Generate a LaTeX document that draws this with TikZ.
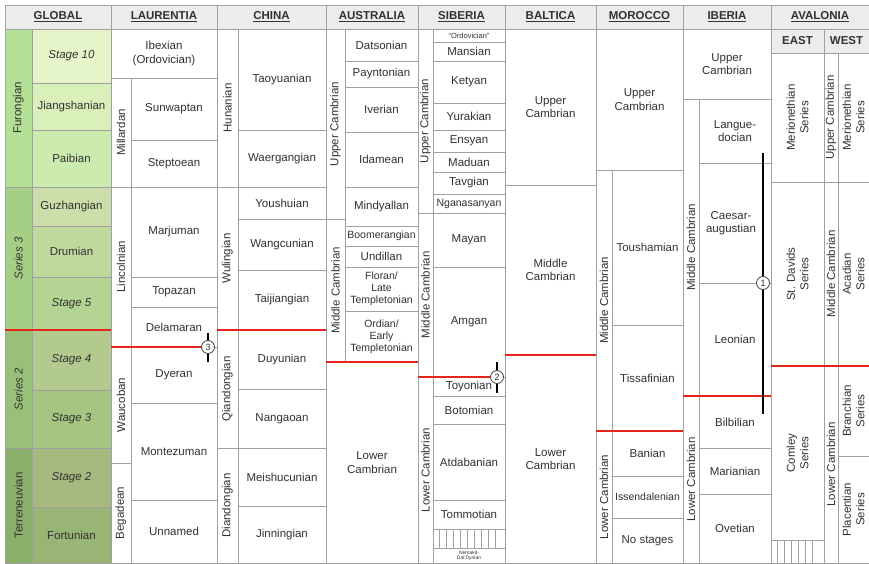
\documentclass[tikz,border=0pt]{standalone}
\usepackage{fontspec}
\setmainfont{Liberation Sans}

\definecolor{gridgray}{RGB}{160,160,160}
\definecolor{hdrgray}{RGB}{236,236,236}
\definecolor{textgray}{RGB}{50,50,50}
\definecolor{bndred}{RGB}{228,38,28}
\definecolor{colFur}{HTML}{B3E095}
\definecolor{colSt10}{HTML}{E6F5C9}
\definecolor{colJia}{HTML}{D9F0BB}
\definecolor{colPai}{HTML}{CCEBAE}
\definecolor{colSer3}{HTML}{A6CF86}
\definecolor{colGuz}{HTML}{CCDFAA}
\definecolor{colDru}{HTML}{BFD99D}
\definecolor{colSt5}{HTML}{B3D492}
\definecolor{colSer2}{HTML}{99C078}
\definecolor{colSt4}{HTML}{B3CA8E}
\definecolor{colSt3}{HTML}{A6C583}
\definecolor{colTer}{HTML}{8CB06C}
\definecolor{colSt2}{HTML}{A6BA80}
\definecolor{colFor}{HTML}{99B575}

\tikzset{
  cellbox/.style={draw=gridgray, line width=0.8pt, fill=white},
  celltext/.style={align=center, inner sep=0pt, text=textgray,
    font=\fontsize{11.5}{13.5}\selectfont},
  hdr/.style={fill=hdrgray, font=\fontsize{11.5}{13.5}\selectfont\bfseries},
  smallfont/.style={font=\fontsize{10.5}{12}\selectfont},
  tinyfont/.style={font=\fontsize{7.5}{8}\selectfont},
  minifont/.style={font=\fontsize{5}{5.5}\selectfont},
  boundary/.style={draw=bndred, line width=2.6pt},
  markerbar/.style={draw=black, line width=2.6pt},
  marker/.style={circle, draw=black!75, fill=white, line width=0.8pt,
    inner sep=0pt, minimum size=13pt, text=textgray,
    font=\fontsize{9}{9}\selectfont},
  hatchline/.style={draw=gridgray, line width=0.8pt}
}

% box from (x1,y1) to (x2,y2) with its label in the middle
\newcommand\Cell[7][]{%
  \draw[cellbox,#1] (#3,#4) rectangle (#5,#6);
  \node[celltext,#1] (#2) at ({(#3+#5)/2},{(#4+#6)/2}) {#7};}
\newcommand\VCell[7][]{%
  \draw[cellbox,#1] (#3,#4) rectangle (#5,#6);
  \node[celltext,#1,rotate=90] (#2) at ({(#3+#5)/2},{(#4+#6)/2}) {#7};}

\begin{document}
\begin{tikzpicture}[x=1pt,y=-1pt]
\useasboundingbox (0,0) rectangle (869,564);

% headers
\Cell[hdr]{hGlobal}{5}{5}{111}{29}{\underline{GLOBAL}}
\Cell[hdr]{hLaur}{111}{5}{217}{29}{\underline{LAURENTIA}}
\Cell[hdr]{hChina}{217}{5}{326}{29}{\underline{CHINA}}
\Cell[hdr]{hAustr}{326}{5}{418}{29}{\underline{AUSTRALIA}}
\Cell[hdr]{hSiber}{418}{5}{505}{29}{\underline{SIBERIA}}
\Cell[hdr]{hBalt}{505}{5}{596}{29}{\underline{BALTICA}}
\Cell[hdr]{hMoro}{596}{5}{683}{29}{\underline{MOROCCO}}
\Cell[hdr]{hIber}{683}{5}{771}{29}{\underline{IBERIA}}
\Cell[hdr]{hAval}{771}{5}{869}{29}{\underline{AVALONIA}}
\Cell[hdr]{hEast}{771}{29}{824}{53}{EAST}
\Cell[hdr]{hWest}{824}{29}{869}{53}{WEST}

% global
\VCell[fill=colFur]{gFur}{5}{29}{32}{187}{Furongian}
\VCell[fill=colSer3]{gSer3}{5}{187}{32}{330}{\itshape Series 3}
\VCell[fill=colSer2]{gSer2}{5}{330}{32}{448}{\itshape Series 2}
\VCell[fill=colTer]{gTer}{5}{448}{32}{563}{Terreneuvian}
\Cell[fill=colSt10]{gSt10}{32}{29}{111}{83}{\itshape Stage 10}
\Cell[fill=colJia]{gJia}{32}{83}{111}{130}{Jiangshanian}
\Cell[fill=colPai]{gPai}{32}{130}{111}{187}{Paibian}
\Cell[fill=colGuz]{gGuz}{32}{187}{111}{226}{Guzhangian}
\Cell[fill=colDru]{gDru}{32}{226}{111}{277}{Drumian}
\Cell[fill=colSt5]{gSt5}{32}{277}{111}{330}{\itshape Stage 5}
\Cell[fill=colSt4]{gSt4}{32}{330}{111}{390}{\itshape Stage 4}
\Cell[fill=colSt3]{gSt3}{32}{390}{111}{448}{\itshape Stage 3}
\Cell[fill=colSt2]{gSt2}{32}{448}{111}{507}{\itshape Stage 2}
\Cell[fill=colFor]{gFor}{32}{507}{111}{563}{Fortunian}

% laurentia
\Cell{lIbe}{111}{29}{217}{78}{Ibexian\\(Ordovician)}
\VCell{lMil}{111}{78}{131}{187}{Millardan}
\VCell{lLin}{111}{187}{131}{347}{Lincolnian}
\VCell{lWau}{111}{347}{131}{463}{Waucoban}
\VCell{lBeg}{111}{463}{131}{563}{Begadean}
\Cell{lSun}{131}{78}{217}{140}{Sunwaptan}
\Cell{lSte}{131}{140}{217}{187}{Steptoean}
\Cell{lMar}{131}{187}{217}{277}{Marjuman}
\Cell{lTop}{131}{277}{217}{307}{Topazan}
\Cell{lDel}{131}{307}{217}{347}{Delamaran}
\Cell{lDye}{131}{347}{217}{403}{Dyeran}
\Cell{lMon}{131}{403}{217}{500}{Montezuman}
\Cell{lUnn}{131}{500}{217}{563}{Unnamed}

% china
\VCell{chHun}{217}{29}{238}{187}{Hunanian}
\VCell{chWul}{217}{187}{238}{330}{Wulingian}
\VCell{chQia}{217}{330}{238}{448}{Qiandongian}
\VCell{chDia}{217}{448}{238}{563}{Diandongian}
\Cell{chTao}{238}{29}{326}{130}{Taoyuanian}
\Cell{chWae}{238}{130}{326}{187}{Waergangian}
\Cell{chYou}{238}{187}{326}{219}{Youshuian}
\Cell{chWan}{238}{219}{326}{270}{Wangcunian}
\Cell{chTai}{238}{270}{326}{330}{Taijiangian}
\Cell{chDuy}{238}{330}{326}{389}{Duyunian}
\Cell{chNan}{238}{389}{326}{448}{Nangaoan}
\Cell{chMei}{238}{448}{326}{506}{Meishucunian}
\Cell{chJin}{238}{506}{326}{563}{Jinningian}

% australia
\VCell{auUpp}{326}{29}{345}{219}{Upper Cambrian}
\VCell{auMid}{326}{219}{345}{362}{Middle Cambrian}
\Cell{auLow}{326}{362}{418}{563}{Lower\\Cambrian}
\Cell{auDat}{345}{29}{418}{61}{Datsonian}
\Cell{auPay}{345}{61}{418}{87}{Payntonian}
\Cell{auIve}{345}{87}{418}{132}{Iverian}
\Cell{auIda}{345}{132}{418}{187}{Idamean}
\Cell{auMin}{345}{187}{418}{226}{Mindyallan}
\Cell[smallfont]{auBoo}{345}{226}{418}{246}{Boomerangian}
\Cell{auUnd}{345}{246}{418}{267}{Undillan}
\Cell[smallfont]{auFlo}{345}{267}{418}{311}{Floran/\\Late\\Templetonian}
\Cell[smallfont]{auOrd}{345}{311}{418}{362}{Ordian/\\Early\\Templetonian}

% siberia
\VCell{siUpp}{418}{29}{433}{213}{Upper Cambrian}
\VCell{siMid}{418}{213}{433}{377}{Middle Cambrian}
\VCell{siLow}{418}{377}{433}{563}{Lower Cambrian}
\Cell[tinyfont]{siOrd}{433}{29}{505}{42}{``Ordovician''}
\Cell{siMan}{433}{42}{505}{61}{Mansian}
\Cell{siKet}{433}{61}{505}{103}{Ketyan}
\Cell{siYur}{433}{103}{505}{130}{Yurakian}
\Cell{siEns}{433}{130}{505}{152}{Ensyan}
\Cell{siMad}{433}{152}{505}{172}{Maduan}
\Cell{siTav}{433}{172}{505}{194}{Tavgian}
\Cell[smallfont]{siNga}{433}{194}{505}{213}{Nganasanyan}
\Cell{siMay}{433}{213}{505}{267}{Mayan}
\Cell{siAmg}{433}{267}{505}{377}{Amgan}
\Cell{siToy}{433}{377}{505}{396}{Toyonian}
\Cell{siBot}{433}{396}{505}{424}{Botomian}
\Cell{siAtd}{433}{424}{505}{500}{Atdabanian}
\Cell{siTom}{433}{500}{505}{529}{Tommotian}
\Cell{siHat}{433}{529}{505}{548}{}
\foreach \x in {439,446,...,500}
  \draw[hatchline] (\x,529) -- (\x,548);
\Cell[minifont]{siNem}{433}{548}{505}{563}{Nemakit-\\Dal'Dynian}

% baltica
\Cell{baUpp}{505}{29}{596}{185}{Upper\\Cambrian}
\Cell{baMid}{505}{185}{596}{355}{Middle\\Cambrian}
\Cell{baLow}{505}{355}{596}{563}{Lower\\Cambrian}

% morocco
\Cell{moUpp}{596}{29}{683}{170}{Upper\\Cambrian}
\VCell{moMid}{596}{170}{612}{431}{Middle Cambrian}
\VCell{moLow}{596}{431}{612}{563}{Lower Cambrian}
\Cell{moTou}{612}{170}{683}{325}{Toushamian}
\Cell{moTis}{612}{325}{683}{431}{Tissafinian}
\Cell{moBan}{612}{431}{683}{476}{Banian}
\Cell[smallfont]{moIss}{612}{476}{683}{518}{Issendalenian}
\Cell{moNo}{612}{518}{683}{563}{No stages}

% iberia
\Cell{ibUpp}{683}{29}{771}{99}{Upper\\Cambrian}
\VCell{ibMid}{683}{99}{699}{396}{Middle Cambrian}
\VCell{ibLow}{683}{396}{699}{563}{Lower Cambrian}
\Cell{ibLan}{699}{99}{771}{163}{Langue-\\docian}
\Cell{ibCae}{699}{163}{763}{283}{Caesar-\\augustian}
\draw[cellbox] (763,163) rectangle (771,283);
\Cell{ibLeo}{699}{283}{771}{396}{Leonian}
\Cell{ibBil}{699}{396}{771}{448}{Bilbilian}
\Cell{ibMar}{699}{448}{771}{494}{Marianian}
\Cell{ibOve}{699}{494}{771}{563}{Ovetian}

% avalonia
\VCell{avEMer}{771}{53}{824}{182}{Merionethian\\Series}
\VCell{avEStd}{771}{182}{824}{366}{St. Davids\\Series}
\VCell{avECom}{771}{366}{824}{540}{Comley\\Series}
\Cell{avEHat}{771}{540}{824}{563}{}
\foreach \x in {777,784,...,818}
  \draw[hatchline] (\x,540) -- (\x,563);
\VCell{avWUpp}{824}{53}{838}{182}{Upper Cambrian}
\VCell{avWMid}{824}{182}{838}{366}{Middle Cambrian}
\VCell{avWLow}{824}{366}{838}{563}{Lower Cambrian}
\VCell{avWMer}{838}{53}{869}{182}{Merionethian\\Series}
\VCell{avWAca}{838}{182}{869}{366}{Acadian\\Series}
\VCell{avWBra}{838}{366}{869}{456}{Branchian\\Series}
\VCell{avWPla}{838}{456}{869}{563}{Placentian\\Series}

% base boundaries
\draw[boundary] (5,330) -- (111,330);
\draw[boundary] (111,347) -- (208,347);
\draw[boundary] (217,330) -- (326,330);
\draw[boundary] (326,362) -- (418,362);
\draw[boundary] (418,377) -- (497,377);
\draw[boundary] (505,355) -- (596,355);
\draw[boundary] (596,431) -- (683,431);
\draw[boundary] (683,396) -- (771,396);
\draw[boundary] (771,366) -- (869,366);

% markers
\draw[markerbar] (208,333) -- (208,362);
\node[marker] (m3) at (208,347) {3};
\draw[markerbar] (497,362) -- (497,393);
\node[marker] (m2) at (497,377) {2};
\draw[markerbar] (763,153) -- (763,414);
\node[marker] (m1) at (763,283) {1};
\end{tikzpicture}
\end{document}
